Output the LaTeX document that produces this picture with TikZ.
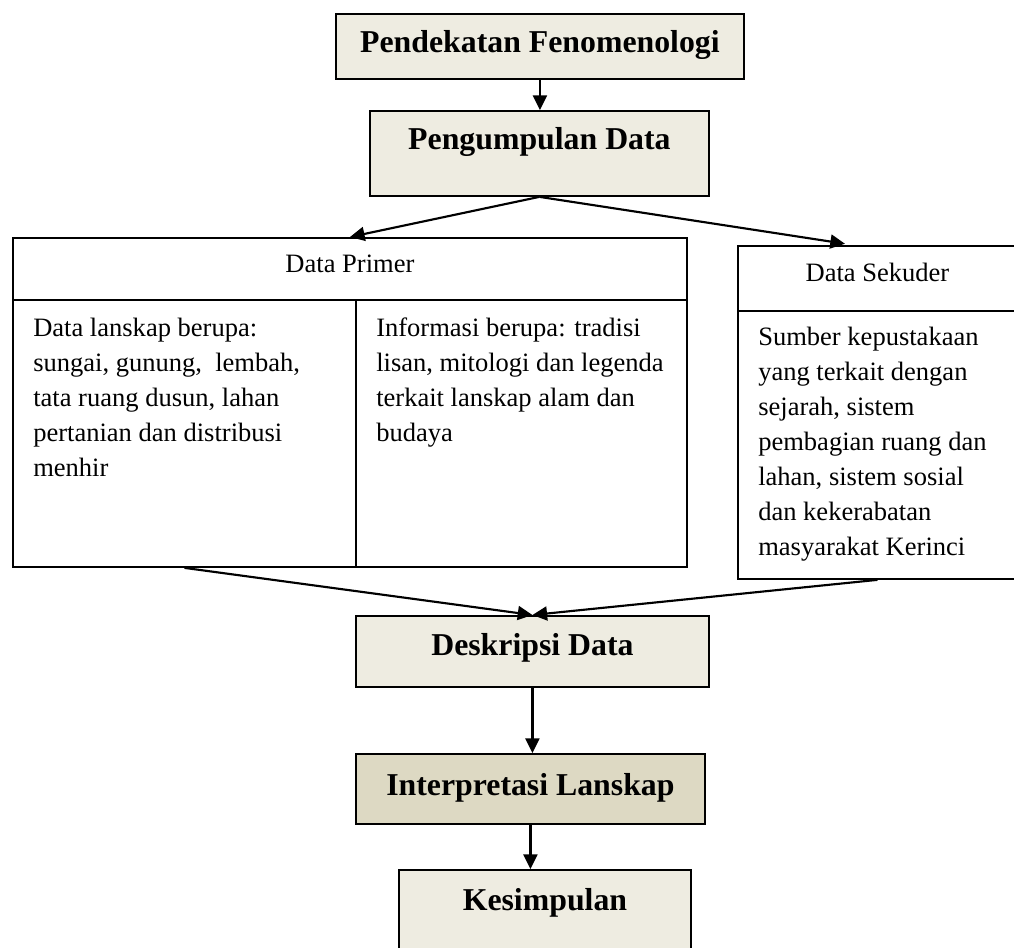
\documentclass[tikz,border=0pt]{standalone}
\usepackage{fontspec}
\setmainfont{Liberation Serif}
\usetikzlibrary{positioning, arrows.meta, calc}

\definecolor{boxtan}{HTML}{EEECE1}
\definecolor{boxtandark}{HTML}{DDD9C3}

\begin{document}
\begin{tikzpicture}[
    x=0.75pt, y=-0.75pt,
    >={Triangle[length=11pt, width=10.5pt]},
    every node/.style={inner sep=0pt},
    box/.style 2 args={draw, line width=1.4pt, anchor=north west,
        minimum width=#1*0.75pt, minimum height=#2*0.75pt},
    stepbox/.style={fill=boxtan},
    title/.style={font=\fontsize{23.85pt}{28pt}\selectfont\bfseries, anchor=base},
    head/.style={font=\fontsize{19.9pt}{24pt}\selectfont, anchor=base},
    body/.style={font=\fontsize{19.9pt}{26.25pt}\selectfont, align=left, anchor=north west},
    arrow/.style={->, line width=1.6pt},
]
\useasboundingbox (0,0) rectangle (1014,948);
\clip (0,0) rectangle (1014,948);

% -- Pendekatan Fenomenologi --
\node[box={408}{65}, stepbox] (fenom) at (335,13) {};
\node[title] at ([yshift=-30pt]fenom.north) {Pendekatan Fenomenologi};

% -- Pengumpulan Data --
\node[box={339}{85}, stepbox] (kumpul) at (369,110) {};
\node[title] at ([yshift=-30pt]kumpul.north) {Pengumpulan Data};

% -- Data Primer: header + two columns --
\node[box={674}{62}] (primhead) at (12,237) {};
\node[head] at ([yshift=-27pt]primhead.north) {Data Primer};
\node[box={343}{267}] (primkiri) at (12,299) {};
\node[box={331}{267}] (primkanan) at (355,299) {};
\node[body] at ([xshift=15.75pt, yshift=-14pt]primkiri.north west)
    {Data lanskap berupa:\\ sungai, gunung,\ \ lembah,\\ tata ruang dusun, lahan\\ pertanian dan distribusi\\ menhir};
\node[body] at ([xshift=15.75pt, yshift=-14pt]primkanan.north west)
    {Informasi berupa: tradisi\\ lisan, mitologi dan legenda\\ terkait lanskap alam dan\\ budaya};

% -- Data Sekuder --
\node[box={279}{65}] (sekhead) at (737,245) {};
\node[head] at ([yshift=-27.75pt]sekhead.north) {Data Sekuder};
\node[box={279}{268}] (sekisi) at (737,310) {};
\node[body] at ([xshift=15.75pt, yshift=-12.75pt]sekisi.north west)
    {Sumber kepustakaan\\ yang terkait dengan\\ sejarah, sistem\\ pembagian ruang dan\\ lahan, sistem sosial\\ dan kekerabatan\\ masyarakat Kerinci};

% -- Deskripsi, Interpretasi, Kesimpulan --
\node[box={353}{71}, stepbox] (deskripsi) at (355,615) {};
\node[title] at ([yshift=-30pt]deskripsi.north) {Deskripsi Data};
\node[box={349}{70}, fill=boxtandark] (interp) at (355,753) {};
\node[title] at ([yshift=-31.5pt]interp.north) {Interpretasi Lanskap};
\node[box={292}{91}, stepbox] (kesim) at (398,869) {};
\node[title] at ([yshift=-30.75pt]kesim.north) {Kesimpulan};

% -- Arrows --
\draw[arrow] (fenom.south) -- (fenom.south |- kumpul.north);
\draw[arrow] (kumpul.south) -- (primhead.north);
\draw[arrow, shorten >=6pt] (kumpul.south) -- ([xshift=-18.4pt]sekhead.north);
\draw[arrow] (primkiri.south) -- (deskripsi.north);
\draw[arrow] (sekisi.south) -- (deskripsi.north);
\draw[arrow] (deskripsi.south) -- (deskripsi.south |- interp.north);
\draw[arrow] (interp.south) -- (interp.south |- kesim.north);

\end{tikzpicture}
\end{document}
